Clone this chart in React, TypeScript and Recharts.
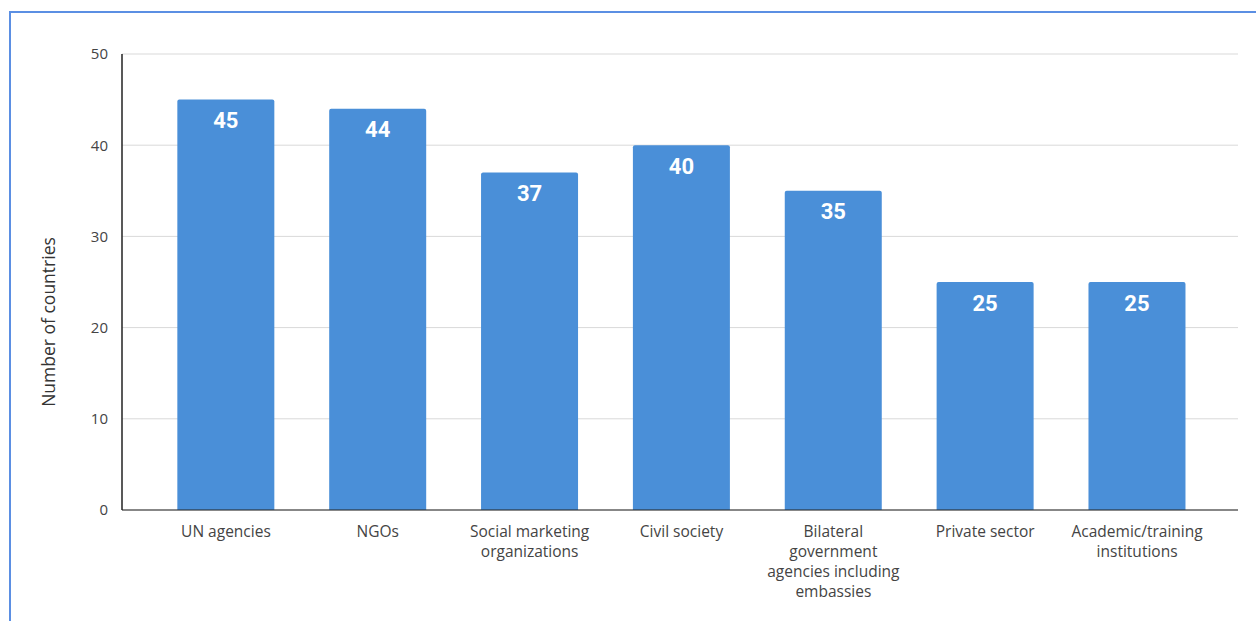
import React from 'react';
import { BarChart, Bar, XAxis, YAxis, CartesianGrid, LabelList, Label } from 'recharts';

const categories = [
  'UN agencies',
  'NGOs',
  'Social marketing\norganizations',
  'Civil society',
  'Bilateral\ngovernment\nagencies including\nembassies',
  'Private sector',
  'Academic/training\ninstitutions',
];
const countries = [45, 44, 37, 40, 35, 25, 25];
const yTicks = [0, 10, 20, 30, 40, 50];
const yAxisTitle = 'Number of countries';

const data = categories.map((c, i) => ({ name: c, value: countries[i] }));

const FONT = '"Open Sans", "Noto Sans", sans-serif';

const CategoryTick = (props: any) => {
  const { x, y, payload } = props;
  const lines = String(payload.value).split('\n');
  return (
    <g transform={`translate(${x},${y})`}>
      <text textAnchor="middle" fill="#444" fontSize={15.5} fontFamily={FONT}>
        {lines.map((l: string, i: number) => (
          <tspan key={i} x={0} dy={i === 0 ? 19 : 20}>
            {l}
          </tspan>
        ))}
      </text>
    </g>
  );
};

const YTitle = (props: any) => {
  const vb = props.viewBox || {};
  const cx = (vb.x ?? 0) + 48;
  const cy = (vb.y ?? 54) + (vb.height ?? 456) / 2 + 40;
  return (
    <text
      transform={`translate(${cx},${cy}) rotate(-90)`}
      textAnchor="middle"
      dominantBaseline="central"
      fill="#333"
      fontSize={17.5}
      fontFamily={FONT}
    >
      {yAxisTitle}
    </text>
  );
};

export default function App() {
  return (
    <div style={{ position: 'absolute', left: 0, top: 0, width: 1256, height: 621, background: '#fff', overflow: 'hidden' }}>
      <div
        style={{
          position: 'absolute',
          left: 9,
          top: 11,
          width: 1400,
          height: 800,
          borderTop: '2px solid #5b8fe3',
          borderLeft: '2px solid #5b8fe3',
        }}
      />
      <div style={{ position: 'absolute', left: 0, top: 0 }}>
        <BarChart
          width={1256}
          height={621}
          data={data}
          margin={{ top: 54, right: 18, bottom: 81, left: 0 }}
          barCategoryGap="18%"
        >
          <CartesianGrid vertical={false} stroke="#d9d9d9" />
          <XAxis
            dataKey="name"
            interval={0}
            tick={<CategoryTick />}
            tickLine={false}
            axisLine={{ stroke: '#222' }}
            padding={{ left: 28, right: 25 }}
          />
          <YAxis
            width={122}
            domain={[0, 50]}
            ticks={yTicks}
            tickLine={false}
            axisLine={{ stroke: '#222', strokeWidth: 1.5 }}
            tick={{ fill: '#444', fontSize: 15, fontFamily: FONT }}
            tickMargin={8}
          >
            <Label content={<YTitle />} />
          </YAxis>
          <Bar dataKey="value" fill="#4a8fd8" radius={[2, 2, 0, 0]} isAnimationActive={false}>
            <LabelList
              dataKey="value"
              position="insideTop"
              offset={13}
              fill="#fff"
              fontSize={22}
              fontWeight="bold"
              fontFamily='Roboto, "Open Sans", sans-serif'
            />
          </Bar>
        </BarChart>
      </div>
    </div>
  );
}
